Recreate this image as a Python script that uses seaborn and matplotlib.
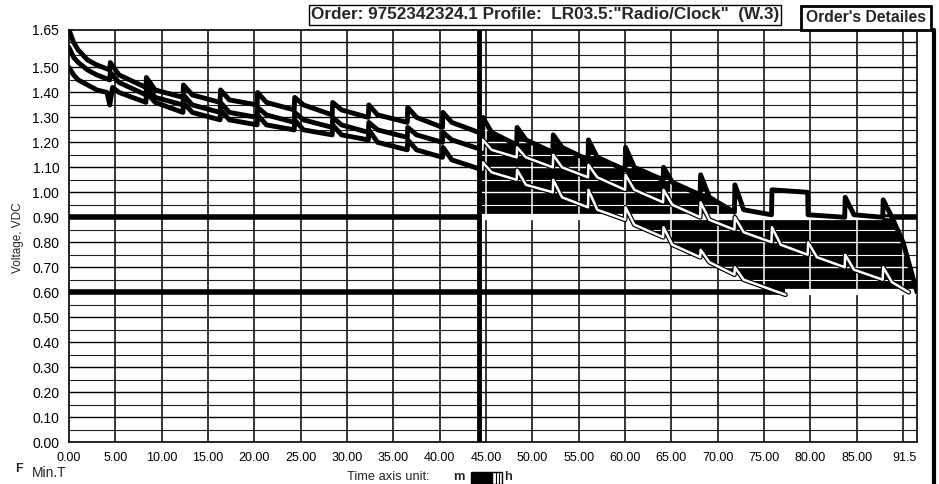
import numpy as np
import pandas as pd
import matplotlib
matplotlib.use("Agg")
import matplotlib.pyplot as plt
import seaborn as sns
from matplotlib.path import Path
from matplotlib.patches import Rectangle
from matplotlib.lines import Line2D

# -------------------------
# Data (hours, volts)
# -------------------------
# top cell
a_t = [0, 0.5, 1.0, 2.0, 3.0, 4.4,
       4.45, 5.4, 8.3, 8.35, 9.3, 12.3, 12.35, 13.3, 16.3, 16.35, 17.3, 20.3,
       20.35, 21.3, 24.3, 24.35, 25.3, 28.4, 28.45, 29.4, 32.3, 32.35, 33.3, 36.5,
       36.55, 37.5, 40.3, 40.35, 41.3, 44.2, 44.6,
       44.65, 45.6, 48.3, 48.35, 49.3, 52.2, 52.25, 53.2, 56.0, 56.05, 57.0, 60.0,
       60.05, 61.0, 64.1, 64.15, 65.1, 68.1, 68.15, 69.1, 71.8, 71.85, 72.8, 75.8,
       75.85, 79.7, 79.75, 83.7, 83.75, 84.7, 87.8, 87.85, 88.8, 90.0, 90.9, 91.5]
a_v = [1.65, 1.60, 1.57, 1.53, 1.51, 1.49,
       1.52, 1.47, 1.42, 1.46, 1.41, 1.38, 1.43, 1.39, 1.36, 1.41, 1.37, 1.35,
       1.40, 1.36, 1.33, 1.38, 1.35, 1.31, 1.36, 1.33, 1.30, 1.35, 1.31, 1.28,
       1.34, 1.30, 1.26, 1.32, 1.28, 1.24, 1.23,
       1.30, 1.24, 1.19, 1.26, 1.21, 1.16, 1.23, 1.18, 1.13, 1.21, 1.14, 1.09,
       1.18, 1.10, 1.05, 1.10, 1.04, 0.99, 1.07, 0.98, 0.92, 1.03, 0.93, 0.91,
       1.01, 1.00, 0.91, 0.90, 0.98, 0.91, 0.90, 0.97, 0.90, 0.80, 0.68, 0.60]

# middle cell
b_t = [0, 0.5, 1.0, 2.0, 3.0, 4.4,
       4.45, 5.4, 8.3, 8.35, 9.3, 12.3, 12.35, 13.3, 16.3, 16.35, 17.3, 20.3,
       20.35, 21.3, 24.3, 24.35, 25.3, 28.4, 28.45, 29.4, 32.3, 32.35, 33.3, 36.5,
       36.55, 37.5, 40.3, 40.35, 41.3, 44.6,
       44.65, 45.6, 48.3, 48.35, 49.3, 52.2, 52.25, 53.2, 56.0, 56.05, 57.0, 60.0,
       60.05, 61.0, 64.1, 64.15, 65.1, 68.1, 68.15, 69.1, 71.8, 71.85, 72.8, 75.8,
       75.85, 76.8, 79.7, 79.75, 80.7, 83.7, 83.75, 84.7, 87.8, 87.85, 88.8, 90.6]
b_v = [1.58, 1.54, 1.52, 1.49, 1.47, 1.45,
       1.48, 1.44, 1.39, 1.43, 1.38, 1.35, 1.39, 1.35, 1.32, 1.36, 1.32, 1.30,
       1.34, 1.31, 1.28, 1.32, 1.29, 1.26, 1.30, 1.27, 1.24, 1.28, 1.25, 1.22,
       1.26, 1.23, 1.20, 1.24, 1.21, 1.17,
       1.21, 1.17, 1.14, 1.18, 1.14, 1.10, 1.15, 1.10, 1.06, 1.11, 1.06, 1.01,
       1.07, 1.01, 0.96, 1.01, 0.95, 0.90, 0.96, 0.89, 0.85, 0.90, 0.84, 0.80,
       0.86, 0.79, 0.75, 0.80, 0.74, 0.70, 0.75, 0.69, 0.65, 0.70, 0.64, 0.60]

# lowest cell
c_t = [0, 0.5, 1.0, 2.0, 3.0, 4.1, 4.4, 4.7, 5.4, 8.3,
       8.35, 9.3, 12.3, 12.35, 13.3, 16.3, 16.35, 17.3, 20.3,
       20.35, 21.3, 24.3, 24.35, 25.3, 28.4, 28.45, 29.4, 32.3, 32.35, 33.3, 36.5,
       36.55, 37.5, 40.3, 40.35, 41.3, 44.6,
       44.65, 45.6, 48.3, 48.35, 49.3, 52.2, 52.25, 53.2, 56.0, 56.05, 57.0, 60.0,
       60.05, 61.0, 64.1, 64.15, 65.1, 68.1, 68.15, 69.1, 71.8, 71.85, 72.8, 75.8, 77.3]
c_v = [1.50, 1.47, 1.45, 1.43, 1.41, 1.40, 1.35, 1.42, 1.40, 1.36,
       1.40, 1.36, 1.32, 1.36, 1.32, 1.29, 1.33, 1.29, 1.27,
       1.31, 1.27, 1.25, 1.29, 1.25, 1.23, 1.27, 1.23, 1.21, 1.25, 1.20, 1.17,
       1.21, 1.17, 1.14, 1.18, 1.13, 1.09,
       1.12, 1.08, 1.05, 1.09, 1.03, 1.00, 1.05, 0.98, 0.94, 1.01, 0.93, 0.89,
       0.94, 0.87, 0.82, 0.86, 0.79, 0.74, 0.77, 0.72, 0.67, 0.70, 0.65, 0.61, 0.59]

x_ticks = [0, 5, 10, 15, 20, 25, 30, 35, 40, 45, 50, 55, 60, 65, 70, 75, 80, 85, 91.5]
x_labels = ["0.00", "5.00", "10.00", "15.00", "20.00", "25.00", "30.00", "35.00",
            "40.00", "45.00", "50.00", "55.00", "60.00", "65.00", "70.00", "75.00",
            "80.00", "85.00", "91.5"]
y_ticks = [0.0, 0.1, 0.2, 0.3, 0.4, 0.5, 0.6, 0.7, 0.8, 0.9, 1.0, 1.1, 1.2, 1.3, 1.4, 1.5, 1.65]
y_labels = [f"{v:.2f}" for v in y_ticks]

cutoffs = [0.90, 0.60]
cursor_t = 44.2
title = 'Order: 9752342324.1 Profile:  LR03.5:"Radio/Clock"  (W.3)'

# -------------------------
# Figure
# -------------------------
sns.set_style("white")
plt.rcParams['font.family'] = ['Liberation Sans', 'DejaVu Sans']

fig = plt.figure(figsize=(9.39, 4.84), dpi=100)
ax = fig.add_axes([69 / 939, 42 / 484, 848 / 939, 412 / 484])
ax.set_xlim(0, 91.5)
ax.set_ylim(0, 1.65)

grid_x = np.arange(5, 91, 5)
grid_y_major = np.arange(0.1, 1.61, 0.1)
grid_y_minor = np.arange(0.05, 1.65, 0.1)

ax.vlines(grid_x, 0, 1.65, colors="black", lw=1.1, zorder=1)
ax.hlines(grid_y_major, 0, 91.5, colors="black", lw=1.0, zorder=1)
ax.hlines(grid_y_minor, 0, 91.5, colors="#222222", lw=0.8, zorder=1)
ax.hlines(cutoffs, 0, 91.5, colors="black", lw=4, zorder=2)

A_t, A_v = np.array(a_t), np.array(a_v)
C_t, C_v = np.array(c_t), np.array(c_v)

# black band the scan shows between the cells
f1 = ax.fill_between(A_t, A_v, 0.9, where=(A_t >= cursor_t) & (A_t <= 71.8),
                     color="black", lw=0, zorder=3)
f2 = ax.fill_between(C_t, C_v, 0.9, where=(C_v <= 0.9), interpolate=True,
                     color="black", lw=0, zorder=3)
f3 = ax.fill_between(A_t, 0.6, np.minimum(A_v, 0.9), where=(A_t >= 75.8),
                     color="black", lw=0, zorder=3)
clip = Path.make_compound_path(*(f1.get_paths() + f2.get_paths() + f3.get_paths()))

# grid turns white inside the black band
for coll in [ax.vlines(grid_x, 0, 1.65, colors="white", lw=1.1, zorder=4),
             ax.hlines(grid_y_major, 0, 91.5, colors="white", lw=1.0, zorder=4),
             ax.hlines(grid_y_minor, 0, 91.5, colors="white", lw=0.8, zorder=4)]:
    coll.set_clip_path(clip, ax.transData)
ax.hlines(0.9, cursor_t, 87.8, colors="white", lw=4.5, zorder=4)
ax.hlines(0.6, 77.3, 91.5, colors="white", lw=4.5, zorder=4)

df_a = pd.DataFrame({"t": a_t, "v": a_v})
df_b = pd.DataFrame({"t": b_t, "v": b_v})
df_c = pd.DataFrame({"t": c_t, "v": c_v})

for df in [df_a, df_b, df_c]:
    sns.lineplot(data=df, x="t", y="v", ax=ax, color="black", lw=3.5,
                 estimator=None, sort=False, zorder=5)
for df in [df_b, df_c]:
    sns.lineplot(data=df[df["t"] >= cursor_t], x="t", y="v", ax=ax, color="white",
                 lw=1.8, estimator=None, sort=False, zorder=6)

ax.axvline(cursor_t, color="black", lw=3.5, zorder=7)

ax.set_xticks(x_ticks)
ax.set_xticklabels(x_labels)
ax.get_xticklabels()[-1].set_ha("right")
ax.set_yticks(y_ticks)
ax.set_yticklabels(y_labels)
ax.tick_params(axis="both", direction="out", length=4, width=1, colors="black", pad=3)
ax.tick_params(axis="x", labelsize=9)
ax.tick_params(axis="y", labelsize=10)
ax.set_xlabel("")
ax.set_ylabel("")
for s in ax.spines.values():
    s.set_visible(True)
    s.set_color("black")
    s.set_linewidth(1.2)

fig.text(18 / 939, 1 - 238 / 484, "Voltage, VDC", rotation=90, fontsize=8.5,
         ha="center", va="center")

# header
fig.text(545 / 939, 1 - 15 / 484, title, fontsize=12.3, weight="bold",
         ha="center", va="center",
         bbox=dict(boxstyle="square,pad=0.12", fc="white", ec="black", lw=1))
fig.text(866 / 939, 1 - 18 / 484, "Order's Detailes", fontsize=11.3, weight="bold",
         ha="center", va="center",
         bbox=dict(boxstyle="square,pad=0.3", fc="white", ec="black", lw=2))

# footer
fig.text(19 / 939, 1 - 469 / 484, "F", fontsize=9, weight="bold", ha="center", va="center")
fig.text(32 / 939, 1 - 473 / 484, "Min.T", fontsize=10, va="center")
fig.text(347 / 939, 1 - 477 / 484, "Time axis unit:", fontsize=9.3, va="center")
fig.text(453 / 939, 1 - 477 / 484, "m", fontsize=9.3, weight="bold", va="center")
fig.add_artist(Rectangle((471 / 939, 0), 21 / 939, 12 / 484, transform=fig.transFigure,
                         fc="black", ec="black"))
fig.add_artist(Rectangle((492 / 939, 0), 10 / 939, 12 / 484, transform=fig.transFigure,
                         fc="white", ec="black", lw=1))
fig.add_artist(Line2D([496 / 939, 496 / 939], [0, 11 / 484], transform=fig.transFigure,
                      color="black", lw=0.8))
fig.add_artist(Line2D([499 / 939, 499 / 939], [0, 11 / 484], transform=fig.transFigure,
                      color="black", lw=0.8))
fig.text(504 / 939, 1 - 477 / 484, "h", fontsize=9.3, weight="bold", va="center")

# dark scanner edge on the right
fig.add_artist(Line2D([934 / 939, 934 / 939], [0, 1 - 30 / 484], transform=fig.transFigure,
                      color="black", lw=3))

fig.savefig("out.png", dpi=100)
